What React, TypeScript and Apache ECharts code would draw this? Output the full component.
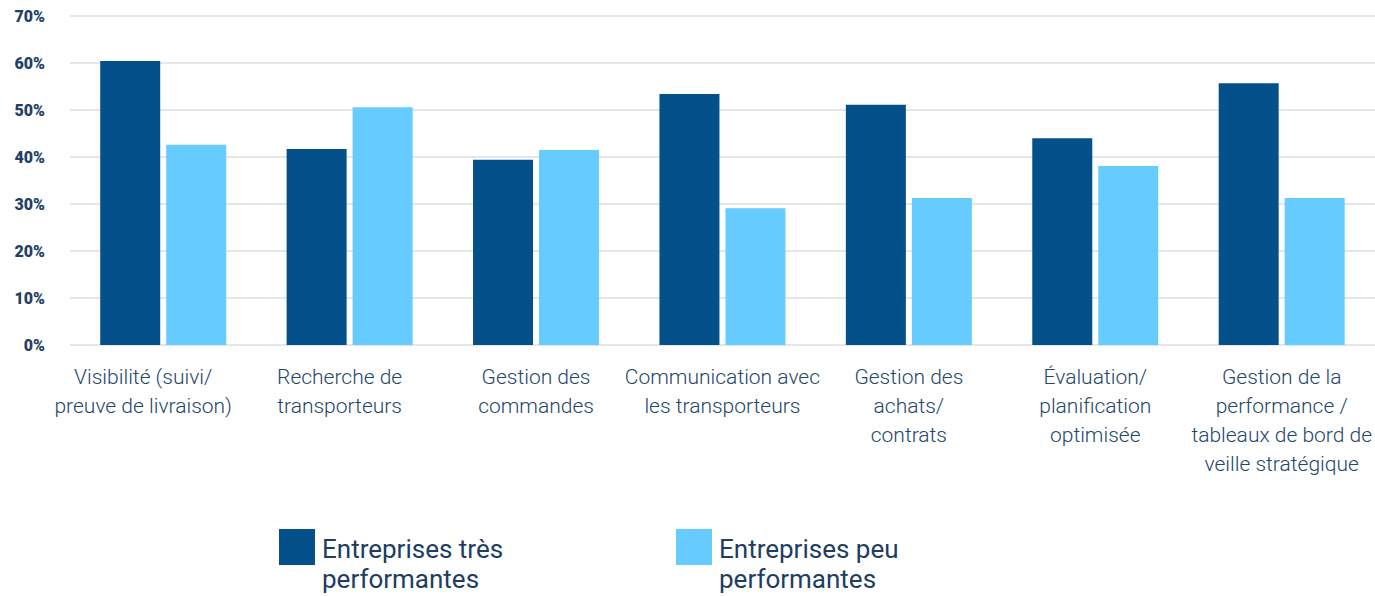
import React, { useEffect, useRef } from "react";
import * as echarts from "echarts";

const categories = [
  "Visibilité (suivi/\npreuve de livraison)",
  "Recherche de\ntransporteurs",
  "Gestion des\ncommandes",
  "Communication avec\nles transporteurs",
  "Gestion des\nachats/\ncontrats",
  "Évaluation/\nplanification\noptimisée",
  "Gestion de la\nperformance /\ntableaux de bord de\nveille stratégique",
];
const labelShift = [40, 20, 0, 0, 0, 0, 0];
const seriesNames = ["Entreprises très\nperformantes", "Entreprises peu\nperformantes"];
const highPerf = [60.4, 41.7, 39.4, 53.4, 51.1, 44.0, 55.7];
const lowPerf = [42.6, 50.6, 41.5, 29.1, 31.3, 38.1, 31.3];
const colors = ["#03508a", "#66ccff"];
const textColor = "#244669";

export default function App() {
  const ref = useRef<HTMLDivElement>(null);
  useEffect(() => {
    document.body.style.margin = "0";
    const chart = echarts.init(ref.current!, null, { renderer: "svg" });
    const legendItems = [
      { x: 279, name: seriesNames[0], color: colors[0] },
      { x: 676, name: seriesNames[1], color: colors[1] },
    ];
    chart.setOption({
      animation: false,
      grid: { left: 70, right: 0, top: 16, bottom: 251, containLabel: false },
      xAxis: {
        type: "category",
        data: categories.map((c, i) => ({
          value: c,
          textStyle: { padding: [0, labelShift[i], 0, 0] },
        })),
        axisLine: { show: false },
        axisTick: { show: false },
        axisLabel: {
          interval: 0,
          margin: 17,
          color: textColor,
          fontFamily: "Roboto",
          fontWeight: 300,
          fontSize: 21,
          lineHeight: 29,
        },
      },
      yAxis: {
        type: "value",
        min: 0,
        max: 70,
        interval: 10,
        axisLine: { show: false },
        axisTick: { show: false },
        splitLine: { lineStyle: { color: "#e3e6ea", width: 2 } },
        axisLabel: {
          formatter: "{value}%",
          margin: 25,
          color: "#243f66",
          fontFamily: "Roboto",
          fontWeight: 900,
          fontSize: 16,
        },
      },
      series: [
        {
          name: seriesNames[0],
          type: "bar",
          data: highPerf,
          barWidth: 60,
          barGap: "10%",
          itemStyle: { color: colors[0] },
        },
        {
          name: seriesNames[1],
          type: "bar",
          data: lowPerf,
          barWidth: 60,
          itemStyle: { color: colors[1] },
        },
      ],
      graphic: legendItems.flatMap((it) => [
        {
          type: "rect",
          left: it.x,
          top: 529,
          shape: { width: 36, height: 36 },
          style: { fill: it.color },
        },
        {
          type: "text",
          left: it.x + 43,
          top: 534,
          style: {
            text: it.name,
            fill: "#1d3d63",
            font: "400 26px Roboto",
            lineHeight: 30,
          },
        },
      ]),
    });
    return () => chart.dispose();
  }, []);
  return <div ref={ref} style={{ width: 1375, height: 596 }} />;
}
